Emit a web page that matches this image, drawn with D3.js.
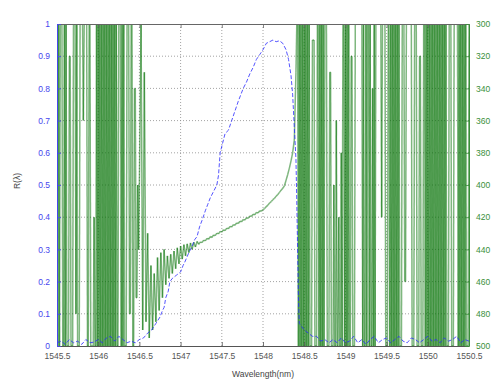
<!DOCTYPE html>
<html>
<head>
<meta charset="utf-8">
<script src="https://cdn.jsdelivr.net/npm/d3@7/dist/d3.min.js"></script>
<style>
  html, body { margin: 0; padding: 0; background: #fff; }
  svg { display: block; }
  text { font-family: "Liberation Sans", Arial, sans-serif; }
</style>
</head>
<body>
<svg id="chart" width="498" height="383"></svg>
<script>
// Wavelength axis ticks (nm)
const wavelengthTicks = [1545.5, 1546, 1546.5, 1547, 1547.5, 1548, 1548.5, 1549, 1549.5, 1550, 1550.5];
// Left axis: reflectivity ticks
const reflTicks = [0, 0.1, 0.2, 0.3, 0.4, 0.5, 0.6, 0.7, 0.8, 0.9, 1];
// Right axis: group delay ticks (drawn increasing downward)
const delayTicks = [300, 320, 340, 360, 380, 400, 420, 440, 460, 480, 500];

// Reflectivity spectrum
const reflWave = [
  1545.50, 1545.55, 1545.60, 1545.65, 1545.70, 1545.75, 1545.80, 1545.85, 1545.90, 1545.95,
  1546.00, 1546.05, 1546.10, 1546.15, 1546.20, 1546.25, 1546.30, 1546.35, 1546.40, 1546.45,
  1546.50, 1546.55, 1546.60, 1546.65, 1546.70, 1546.75, 1546.78, 1546.80, 1546.82, 1546.85,
  1546.87, 1546.90, 1546.95, 1547.00, 1547.03, 1547.05, 1547.10, 1547.14, 1547.17, 1547.20,
  1547.23, 1547.26, 1547.30, 1547.33, 1547.36, 1547.40, 1547.44, 1547.46, 1547.48, 1547.51,
  1547.54, 1547.58, 1547.62, 1547.66, 1547.70, 1547.73, 1547.76, 1547.80, 1547.84, 1547.88,
  1547.92, 1547.96, 1548.00, 1548.04, 1548.08, 1548.12, 1548.16, 1548.20, 1548.24, 1548.28,
  1548.31, 1548.34, 1548.36, 1548.38, 1548.40, 1548.41, 1548.42, 1548.43, 1548.44, 1548.47,
  1548.50, 1548.55, 1548.60, 1548.65, 1548.70, 1548.75, 1548.80, 1548.85, 1548.90, 1548.95,
  1549.00, 1549.05, 1549.10, 1549.15, 1549.20, 1549.25, 1549.30, 1549.35, 1549.40, 1549.45,
  1549.50, 1549.55, 1549.60, 1549.65, 1549.70, 1549.75, 1549.80, 1549.85, 1549.90, 1549.95,
  1550.00, 1550.05, 1550.10, 1550.15, 1550.20, 1550.25, 1550.30, 1550.35, 1550.40, 1550.45,
  1550.50
];
const reflValue = [
  0.010, 0.015, 0.005, 0.020, 0.010, 0.015, 0.005, 0.020, 0.010, 0.012,
  0.020, 0.010, 0.025, 0.030, 0.015, 0.030, 0.020, 0.010, 0.015, 0.010,
  0.020, 0.025, 0.040, 0.050, 0.070, 0.090, 0.110, 0.120, 0.150, 0.170,
  0.200, 0.210, 0.220, 0.230, 0.250, 0.260, 0.290, 0.310, 0.330, 0.340,
  0.370, 0.390, 0.420, 0.440, 0.460, 0.480, 0.500, 0.530, 0.600, 0.630,
  0.660, 0.670, 0.700, 0.730, 0.760, 0.780, 0.800, 0.820, 0.845, 0.865,
  0.890, 0.905, 0.920, 0.940, 0.945, 0.950, 0.945, 0.948, 0.940, 0.920,
  0.890, 0.840, 0.780, 0.680, 0.580, 0.450, 0.300, 0.150, 0.070, 0.060,
  0.050, 0.040, 0.030, 0.030, 0.015, 0.020, 0.010, 0.020, 0.010, 0.025,
  0.010, 0.015, 0.030, 0.010, 0.020, 0.005, 0.020, 0.030, 0.010, 0.020,
  0.025, 0.010, 0.020, 0.030, 0.015, 0.010, 0.025, 0.020, 0.010, 0.020,
  0.030, 0.015, 0.020, 0.010, 0.025, 0.015, 0.020, 0.030, 0.010, 0.020,
  0.015
];

// Group delay, short-wavelength side: 1545.50 .. 1546.50 nm every 0.01 nm
const delayLeftStart = 1545.50, delayLeftStep = 0.01;
const delayLeft = [
  300, 500, 300, 500, 300, 300, 300, 500, 500, 300,
  500, 300, 500, 500, 500, 320, 320, 500, 500, 500,
  300, 300, 300, 480, 300, 500, 500, 500, 300, 300,
  300, 300, 360, 300, 300, 300, 300, 500, 500, 300,
  300, 500, 500, 500, 500, 420, 500, 500, 300, 500,
  300, 500, 300, 500, 300, 500, 300, 500, 300, 500,
  300, 500, 300, 500, 300, 500, 300, 500, 300, 500,
  300, 500, 300, 500, 500, 300, 300, 300, 500, 300,
  500, 300, 500, 500, 500, 300, 300, 300, 480, 480,
  300, 300, 500, 500, 340, 340, 470, 470, 400, 440,
  400
];

// Group delay inside the stop band: 1546.52 .. 1548.38 nm every 0.02 nm
const delayBandStart = 1546.52, delayBandStep = 0.02;
const delayBand = [
  300, 490, 330, 485, 430, 495, 450, 490, 455,
  485, 445, 478, 442, 470, 440, 462, 444, 458, 443,
  455, 441, 452, 439, 449, 438, 446, 437, 444, 436.5,
  442, 436, 440, 435.5, 438.5, 435, 436.9, 435.3, 435.8, 434.2,
  434.7, 433.1, 433.7, 432.0, 432.6, 431.0, 431.5, 429.9, 430.4, 428.8,
  429.3, 427.8, 428.3, 426.8, 427.2, 425.7, 426.1, 424.6, 425.0, 423.5,
  423.9, 422.5, 422.8, 421.4, 421.8, 420.3, 420.7, 419.2, 419.6, 418.2,
  418.5, 417.0, 417.4, 416.0, 416.3, 415.3, 414.6, 413.4, 412.5, 411.2,
  410.3, 409.1, 408.2, 406.9, 405.9, 404.6, 403.2, 402.0, 400.5, 397.0,
  393.5, 389.5, 385.0, 380.0, 372
];

// Group delay, long-wavelength side: 1548.40 .. 1550.50 nm every 0.01 nm
const delayRightStart = 1548.40, delayRightStep = 0.01;
const delayRight = [
  330, 300, 300, 500, 300, 500, 300, 500, 300, 500,
  300, 500, 300, 500, 300, 500, 300, 500, 500, 500,
  310, 310, 310, 500, 500, 500, 300, 300, 500, 300,
  500, 300, 500, 300, 500, 300, 300, 300, 500, 500,
  500, 330, 330, 500, 500, 500, 400, 500, 500, 360,
  500, 500, 420, 500, 500, 380, 500, 300, 300, 500,
  300, 500, 300, 500, 300, 500, 500, 320, 320, 500,
  500, 500, 300, 300, 300, 300, 300, 300, 300, 300,
  300, 500, 300, 500, 500, 300, 500, 300, 300, 500,
  300, 500, 500, 340, 500, 300, 500, 300, 300, 300,
  300, 300, 300, 300, 420, 300, 300, 300, 300, 500,
  500, 500, 300, 300, 500, 300, 500, 300, 500, 300,
  500, 300, 500, 300, 500, 300, 500, 500, 500, 300,
  300, 300, 460, 460, 300, 300, 300, 300, 300, 300,
  300, 500, 500, 500, 300, 300, 300, 500, 500, 500,
  320, 320, 500, 500, 500, 300, 300, 500, 300, 500,
  300, 500, 300, 500, 300, 500, 300, 500, 300, 500,
  300, 500, 300, 500, 300, 500, 300, 500, 300, 500,
  300, 500, 300, 500, 500, 500, 300, 300, 300, 500,
  500, 500, 300, 300, 300, 300, 300, 500, 300, 500,
  300, 500, 300, 500, 300, 500, 300, 500, 500, 500,
  300
];

const xLabel = "Wavelength(nm)";
const yLabel = "R(λ)";

// ---- layout ----
const svg = d3.select("#chart");
const W = 498, H = 383;
const m = { left: 57, right: 29, top: 24, bottom: 37 };
const x0 = m.left, x1 = W - m.right, y0 = m.top, y1 = H - m.bottom;

svg.append("rect").attr("width", W).attr("height", H).attr("fill", "#fff");

const x = d3.scaleLinear().domain([1545.5, 1550.5]).range([x0, x1]);
const yL = d3.scaleLinear().domain([0, 1]).range([y1, y0]);
const yR = d3.scaleLinear().domain([300, 500]).range([y0, y1]);

const blue = "#2a2aff";
const green = "#007000";

// grid
const grid = svg.append("g").attr("stroke", "#8c8c8c").attr("stroke-width", 0.8)
  .attr("stroke-dasharray", "1,2");
grid.selectAll("line.v").data(wavelengthTicks.slice(1, -1)).join("line")
  .attr("x1", d => x(d)).attr("x2", d => x(d)).attr("y1", y0).attr("y2", y1);
grid.selectAll("line.h").data(reflTicks.slice(1, -1)).join("line")
  .attr("x1", x0).attr("x2", x1).attr("y1", d => yL(d)).attr("y2", d => yL(d));

svg.append("clipPath").attr("id", "plotClip").append("rect")
  .attr("x", x0).attr("y", y0).attr("width", x1 - x0).attr("height", y1 - y0);

// group delay trace (right axis): one continuous trace assembled from three sampled pieces
const sampled = (start, step, vals) => vals.map((v, i) => [start + i * step, v]);
const delayPts = [
  ...sampled(delayLeftStart, delayLeftStep, delayLeft),
  ...sampled(delayBandStart, delayBandStep, delayBand),
  ...sampled(delayRightStart, delayRightStep, delayRight)
];
// drawn segment by segment so that crowded stretches build up a darker tone
svg.append("g")
  .attr("clip-path", "url(#plotClip)")
  .selectAll("line")
  .data(d3.pairs(delayPts))
  .join("line")
  .attr("x1", d => x(d[0][0])).attr("y1", d => yR(d[0][1]))
  .attr("x2", d => x(d[1][0])).attr("y2", d => yR(d[1][1]))
  .attr("stroke", green)
  .attr("stroke-opacity", 0.5)
  .attr("stroke-width", 1.5);

// reflectivity trace (left axis), dashed
const reflPts = reflWave.map((w, i) => [w, reflValue[i]]);
svg.append("path")
  .datum(reflPts)
  .attr("clip-path", "url(#plotClip)")
  .attr("fill", "none")
  .attr("stroke", blue)
  .attr("stroke-opacity", 0.8)
  .attr("stroke-width", 1)
  .attr("stroke-dasharray", "4,2")
  .attr("d", d3.line().x(d => x(d[0])).y(d => yL(d[1])));

// axes
const fmt = d => String(d);
const bottomAxis = d3.axisBottom(x).tickValues(wavelengthTicks).tickFormat(fmt)
  .tickSizeInner(-4).tickSizeOuter(0).tickPadding(7);
const topAxis = d3.axisTop(x).tickValues(wavelengthTicks).tickFormat("")
  .tickSizeInner(-4).tickSizeOuter(0);
const leftAxis = d3.axisLeft(yL).tickValues(reflTicks).tickFormat(fmt)
  .tickSizeInner(-4).tickSizeOuter(0).tickPadding(7);
const rightAxis = d3.axisRight(yR).tickValues(delayTicks).tickFormat(fmt)
  .tickSizeInner(-4).tickSizeOuter(0).tickPadding(7);

function styleAxis(g, color) {
  g.select(".domain").attr("stroke", color).attr("stroke-width", 1);
  g.selectAll(".tick line").attr("stroke", color).attr("stroke-width", 0.8);
  g.selectAll(".tick text").attr("fill", color).style("font-size", "8.5px")
    .style("font-family", "'Liberation Sans', Arial, sans-serif");
}

styleAxis(svg.append("g").attr("transform", `translate(0,${y0})`).call(topAxis), "#666");
styleAxis(svg.append("g").attr("transform", `translate(0,${y1})`).call(bottomAxis), "#555");
styleAxis(svg.append("g").attr("transform", `translate(${x0},0)`).call(leftAxis), "#4646ee");
styleAxis(svg.append("g").attr("transform", `translate(${x1},0)`).call(rightAxis), "#3a8f3a");

// axis titles
svg.append("text")
  .attr("x", (x0 + x1) / 2).attr("y", y1 + 31)
  .attr("text-anchor", "middle")
  .attr("fill", "#444")
  .style("font-size", "8.5px")
  .text(xLabel);

svg.append("text")
  .attr("transform", `translate(20,${(y0 + y1) / 2 - 4}) rotate(-90)`)
  .attr("text-anchor", "middle")
  .attr("fill", "#444")
  .style("font-size", "8.5px")
  .text(yLabel);
</script>
</body>
</html>
